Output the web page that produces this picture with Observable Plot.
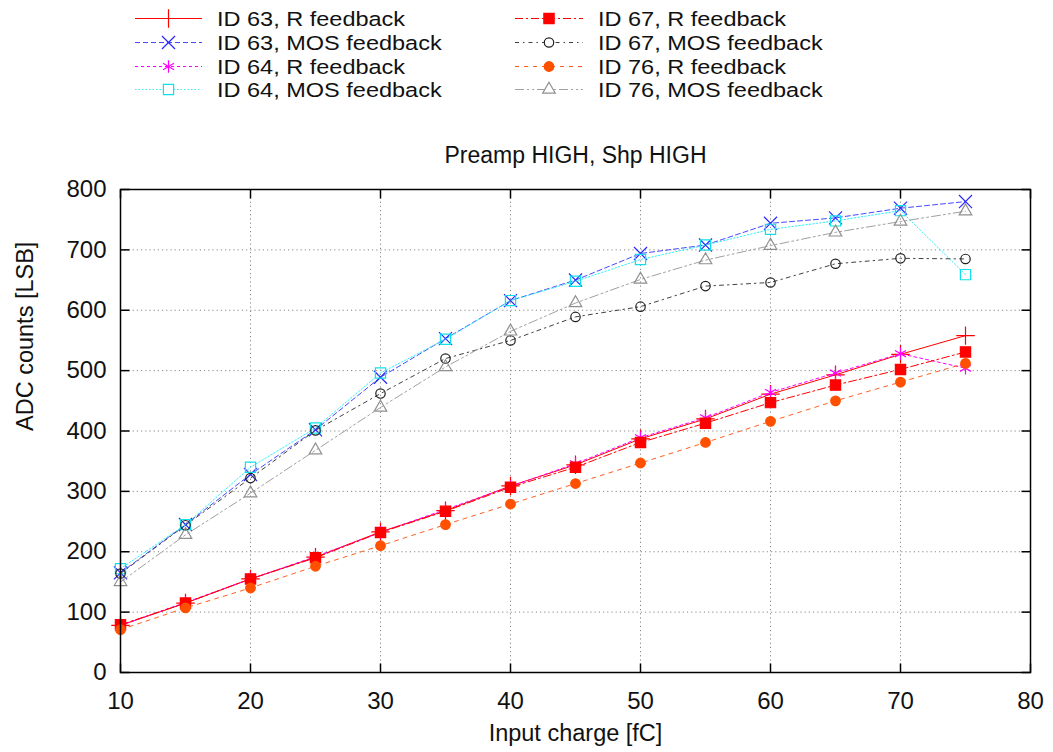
<!DOCTYPE html>
<html>
<head>
<meta charset="utf-8">
<script src="https://cdn.jsdelivr.net/npm/d3@7"></script>
<script src="https://cdn.jsdelivr.net/npm/@observablehq/plot@0.6"></script>
<style>
  html, body { margin: 0; padding: 0; background: #fff; }
  body { width: 1053px; height: 752px; overflow: hidden; font-family: "Liberation Sans", Arial, sans-serif; }
  svg { display: block; }
</style>
</head>
<body>
<div id="legend"></div>
<div id="chart"></div>
<script>
// ---- data ----
const charge = [10, 15, 20, 25, 30, 35, 40, 45, 50, 55, 60, 65, 70, 75];
const id63R   = [78, 115, 155, 191, 233, 268, 309, 344, 387, 420, 461, 493, 527, 558];
const id63MOS = [165, 245, 328, 402, 489, 553, 616, 650, 694, 708, 744, 753, 769, 780];
const id64R   = [78, 116, 155, 192, 232, 270, 308, 346, 389, 422, 464, 496, 528, 504];
const id64MOS = [172, 245, 340, 405, 496, 552, 616, 648, 684, 708, 734, 748, 765, 659];
const id67R   = [79, 115, 155, 190, 232, 267, 307, 340, 381, 413, 447, 476, 502, 531];
const id67MOS = [164, 244, 322, 401, 462, 520, 550, 589, 606, 640, 646, 677, 686, 685];
const id76R   = [71, 107, 140, 176, 210, 245, 279, 313, 347, 381, 416, 450, 481, 512];
const id76MOS = [150, 228, 297, 368, 439, 506, 565, 612, 651, 683, 707, 729, 747, 764];
const seriesNames = ["ID 63, R feedback", "ID 63, MOS feedback", "ID 64, R feedback", "ID 64, MOS feedback",
                     "ID 67, R feedback", "ID 67, MOS feedback", "ID 76, R feedback", "ID 76, MOS feedback"];
const seriesValues = [id63R, id63MOS, id64R, id64MOS, id67R, id67MOS, id76R, id76MOS];
const xTicks = [10, 20, 30, 40, 50, 60, 70, 80];
const yTicks = [0, 100, 200, 300, 400, 500, 600, 700, 800];
const title = "Preamp HIGH, Shp HIGH";
const xLabel = "Input charge [fC]";
const yLabel = "ADC counts [LSB]";

// ---- styles ----
const styles = [
  {color: "#ff0000", mcolor: "#ff0000", dash: null,           symbol: "plus",      r: 6,   filled: false},
  {color: "#4848ff", mcolor: "#2828ff", dash: "5,3",          symbol: "times",     r: 6,   filled: false},
  {color: "#ff00ff", mcolor: "#ff00ff", dash: "3,3",          symbol: "asterisk",  r: 6,   filled: false},
  {color: "#30f0f8", mcolor: "#10e0ec", dash: "1.5,2",        symbol: "square2",   r: 6.5, filled: false},
  {color: "#ff0000", mcolor: "#ff0000", dash: "8,3,2,3",      symbol: "square",    r: 5.8, filled: true},
  {color: "#404040", mcolor: "#202020", dash: "4,4,1.5,4",    symbol: "circle",    r: 4.7, filled: false},
  {color: "#ff6020", mcolor: "#ff5000", dash: "4,5",          symbol: "circle",    r: 4.8, filled: true},
  {color: "#a0a0a0", mcolor: "#909090", dash: "9,3,2,3,2,3",  symbol: "triangle2", r: 6,   filled: false}
];
const font = "'Liberation Sans', Arial, sans-serif";

// ---- legend (above the plot) ----
const symbolMap = {plus: d3.symbolPlus, times: d3.symbolTimes, asterisk: d3.symbolAsterisk,
  square2: d3.symbolSquare2, square: d3.symbolSquare, circle: d3.symbolCircle, triangle2: d3.symbolTriangle2};
const leg = d3.select("#legend").append("svg").attr("width", 1053).attr("height", 110);
seriesNames.forEach((name, i) => {
  const s = styles[i];
  const col = Math.floor(i / 4), row = i % 4;
  const x0 = col === 0 ? 135 : 515, x1 = col === 0 ? 202 : 583, tx = col === 0 ? 217 : 598;
  const cy = Math.round(18 + row * 23.8) + 0.5;
  leg.append("line").attr("x1", x0).attr("x2", x1).attr("y1", cy).attr("y2", cy)
    .attr("stroke", s.color).attr("stroke-width", 1).attr("stroke-dasharray", s.dash);
  leg.append("path").attr("transform", `translate(${(x0 + x1) / 2},${cy})`)
    .attr("d", d3.symbol(symbolMap[s.symbol], Math.PI * s.r * s.r)())
    .attr("fill", s.filled ? s.mcolor : "white").attr("stroke", s.mcolor).attr("stroke-width", 1.2);
  const t = leg.append("text").attr("x", tx).attr("y", cy).attr("dy", "0.36em")
    .attr("font-family", font).attr("font-size", 23.5).attr("fill", "#111").text(name);
  // keep the wide look of the reference glyphs while using a smaller line height
  const w = t.node().getComputedTextLength();
  t.attr("font-size", 20.5).attr("textLength", w).attr("lengthAdjust", "spacingAndGlyphs");
});

// ---- chart ----
const table = seriesNames.flatMap((name, i) => charge.map((c, j) => ({series: i, name, charge: c, adc: seriesValues[i][j]})));

const tickIn = (dx, dy) => ({draw(ctx) { ctx.moveTo(0, 0); ctx.lineTo(dx, dy); }});

const marks = [
  Plot.gridX(xTicks, {stroke: "#888", strokeOpacity: 1, strokeDasharray: "1.2,3"}),
  Plot.gridY(yTicks, {stroke: "#888", strokeOpacity: 1, strokeDasharray: "1.2,3"}),
];
seriesNames.forEach((name, i) => {
  const s = styles[i];
  const d = table.filter(r => r.series === i);
  marks.push(Plot.line(d, {x: "charge", y: "adc", stroke: s.color, strokeWidth: 1, strokeDasharray: s.dash}));
  marks.push(Plot.dot(d, {x: "charge", y: "adc", symbol: s.symbol, r: s.r,
    fill: s.filled ? s.mcolor : "none", stroke: s.mcolor, strokeWidth: 1.2}));
});
marks.push(
  Plot.dot(yTicks, {x: () => xTicks[0], y: d => d, symbol: tickIn(9, 0), stroke: "black", fill: "none", strokeWidth: 1.5}),
  Plot.dot(yTicks, {x: () => xTicks[xTicks.length - 1], y: d => d, symbol: tickIn(-9, 0), stroke: "black", fill: "none", strokeWidth: 1.5}),
  Plot.dot(xTicks, {x: d => d, y: () => yTicks[0], symbol: tickIn(0, -9), stroke: "black", fill: "none", strokeWidth: 1.5}),
  Plot.dot(xTicks, {x: d => d, y: () => yTicks[yTicks.length - 1], symbol: tickIn(0, 9), stroke: "black", fill: "none", strokeWidth: 1.5}),
  Plot.frame({stroke: "black", strokeWidth: 1.5}),
  Plot.axisX(xTicks, {tickSize: 0, tickPadding: 19, fontSize: 24, label: null, fill: "#111"}),
  Plot.axisY(yTicks, {tickSize: 0, tickPadding: 14, fontSize: 24, label: null, fill: "#111"}),
  Plot.text([title], {frameAnchor: "top", lineAnchor: "middle", dy: -34, fontSize: 23, fill: "#111"}),
  Plot.text([xLabel], {frameAnchor: "bottom", lineAnchor: "middle", dy: 61, fontSize: 23.5, fill: "#111"}),
  Plot.text([yLabel], {frameAnchor: "left", lineAnchor: "middle", dx: -95, rotate: -90, fontSize: 23.5, fill: "#111"})
);

const chart = Plot.plot({
  width: 1053,
  height: 642,
  marginTop: 79,
  marginBottom: 80,
  marginLeft: 120,
  marginRight: 23,
  style: {fontFamily: font, background: "white"},
  x: {domain: [10, 80]},
  y: {domain: [0, 800]},
  marks
});
document.getElementById("chart").appendChild(chart);
</script>
</body>
</html>
